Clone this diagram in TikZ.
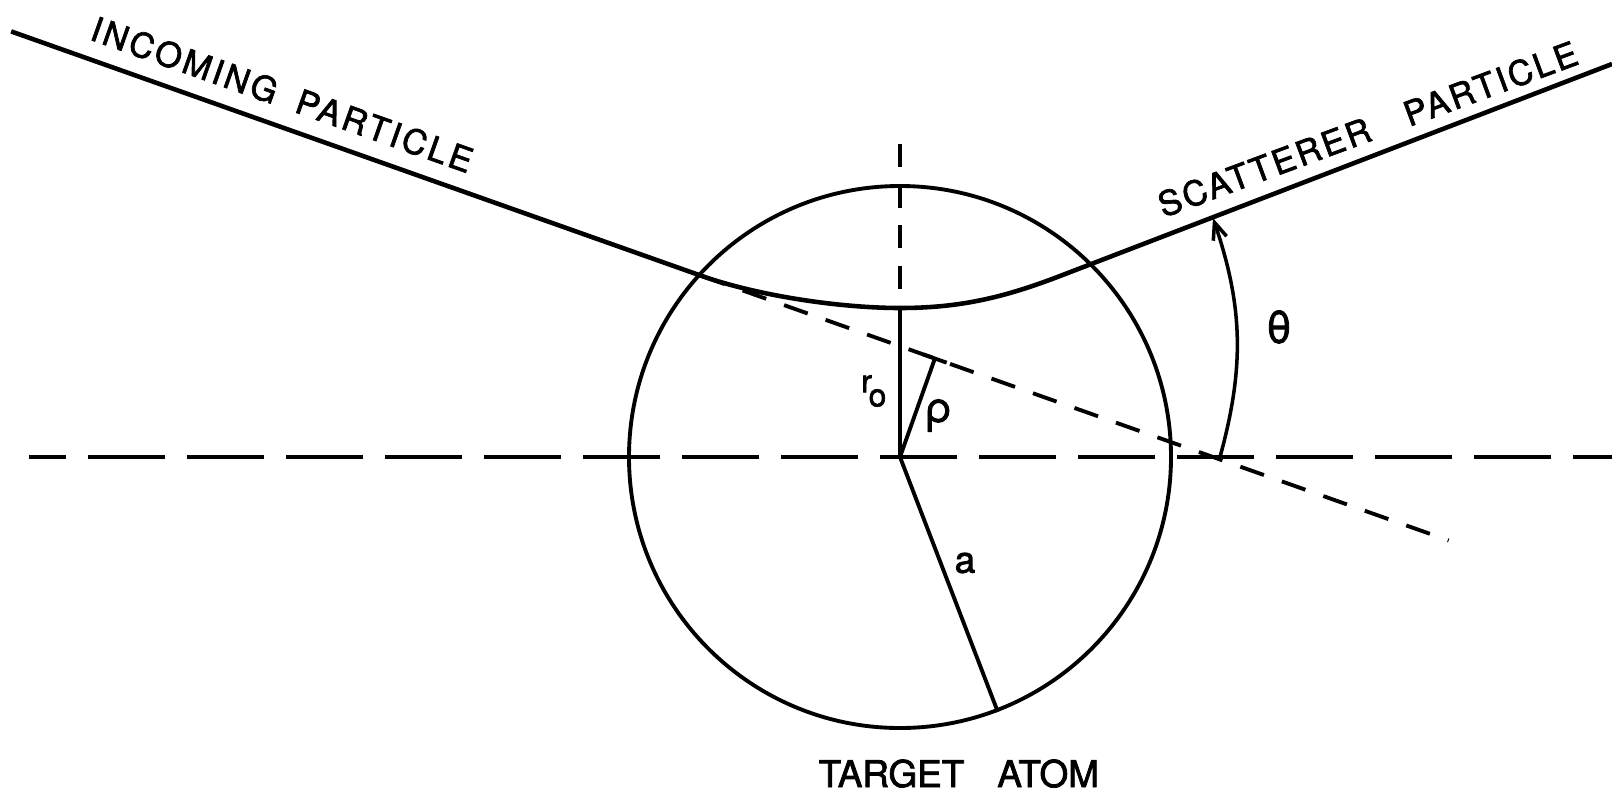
\documentclass[tikz,border=0pt]{standalone}
\usepackage{fontspec}
\setmainfont{TeX Gyre Heros}
\newfontfamily\pen{TeX Gyre Heros}[FakeBold=2]
\usetikzlibrary{positioning, calc, arrows.meta}
\tikzset{
  track/.style={line width=1.3pt},
  wire/.style={line width=1.1pt},
  axisline/.style={line width=1.1pt,dash pattern=on 7.7mm off 2.2mm,dash phase=4mm},
  vline/.style={line width=1.1pt,dash pattern=on 2.3mm off 1.75mm},
  asymline/.style={line width=1.1pt,dash pattern=on 2.5mm off 1.9mm},
  arr/.style={-{Straight Barb[length=1.7mm,width=1.4mm]},line width=1pt},
  tag/.style={inner sep=0pt,font=\pen\fontsize{9.7}{12}\selectfont},
  sym/.style={inner sep=0pt,font=\pen\fontsize{10.5}{12}\selectfont},
}

\begin{document}
\begin{tikzpicture}[node distance=8mm]
  \useasboundingbox (-9.00,-3.36) rectangle (7.12,4.57);
  % target atom
  \coordinate (O) at (0,0);
  \node[draw,circle,line width=1.1pt,minimum size=5.42cm,inner sep=0pt] (atom) at (O) {};
  \coordinate (axL) at (-8.71,0);
  \coordinate (axR) at (7.12,0);
  \draw[axisline] (axL) -- (axR);
  % asymptotes and closest approach
  \coordinate (cross) at (3.13,0);
  \coordinate (inStart) at ($(cross)+(160.5:12.75)$);
  \coordinate (inBend) at ($(cross)+(160.5:5.43)$);
  \coordinate (asymEnd) at ($(cross)+(-19.5:2.5)$);
  \coordinate (rmin) at (0,1.49);
  \coordinate (outBend) at (1.60,1.81);
  \coordinate (outEnd) at (7.12,3.93);
  \coordinate (apex) at (0,3.13);
  \coordinate (foot) at (70.5:1.045);
  \coordinate (thTop) at (3.13,2.39);
  \coordinate (thBot) at (3.20,0);
  \coordinate (r0mid) at (0,0.66);
  \draw[asymline] (inBend) -- (asymEnd);
  \draw[vline] (apex) -- (rmin);
  \draw[track] (inStart) -- (inBend)
    .. controls ($(inBend)+(-19.5:0.6)$) and (-0.6,1.49) .. (rmin)
    .. controls (0.6,1.49) and ($(outBend)+(201:0.6)$) .. (outBend)
    -- (outEnd);
  \draw[wire] (rmin) -- (O);
  \draw[wire] (O) -- (foot);
  \draw[wire] ($(foot)+(-19.5:0.125)$) -- ($(foot)+(160.5:0.125)$);
  \draw[wire] (O) -- (atom.-69);
  \draw[arr] (thBot) to[bend right=17] (thTop);
  % labels
  \node[tag,anchor=base west,rotate=-19.5] (inLbl) at (-8.12,4.18)
    {\addfontfeatures{LetterSpace=9}INCOMING\hspace{2.2mm}PARTICLE};
  \node[tag,anchor=base west,rotate=20.3] (outLbl) at (2.63,2.39)
    {\addfontfeatures{LetterSpace=8}SCATTERER\hspace{3.8mm}PARTICLE};
  \node[sym,anchor=base west] (atomLbl) at (-0.82,-3.30) {TARGET\hspace{3.3mm}ATOM};
  \node[tag,font=\pen\fontsize{9}{11}\selectfont,left=1.3mm of r0mid] (r0Lbl)
    {r\kern-0.1em\raisebox{-1.4mm}{o}};
  \node[sym,font=\pen\fontsize{12}{14}\selectfont] (rhoLbl) at (0.385,0.415) {ρ};
  \node[sym,font=\pen\fontsize{12.5}{14}\selectfont] (thLbl) at (3.79,1.30) {θ};
  \node[sym] (aLbl) at (0.65,-1.06) {a};
\end{tikzpicture}
\end{document}
